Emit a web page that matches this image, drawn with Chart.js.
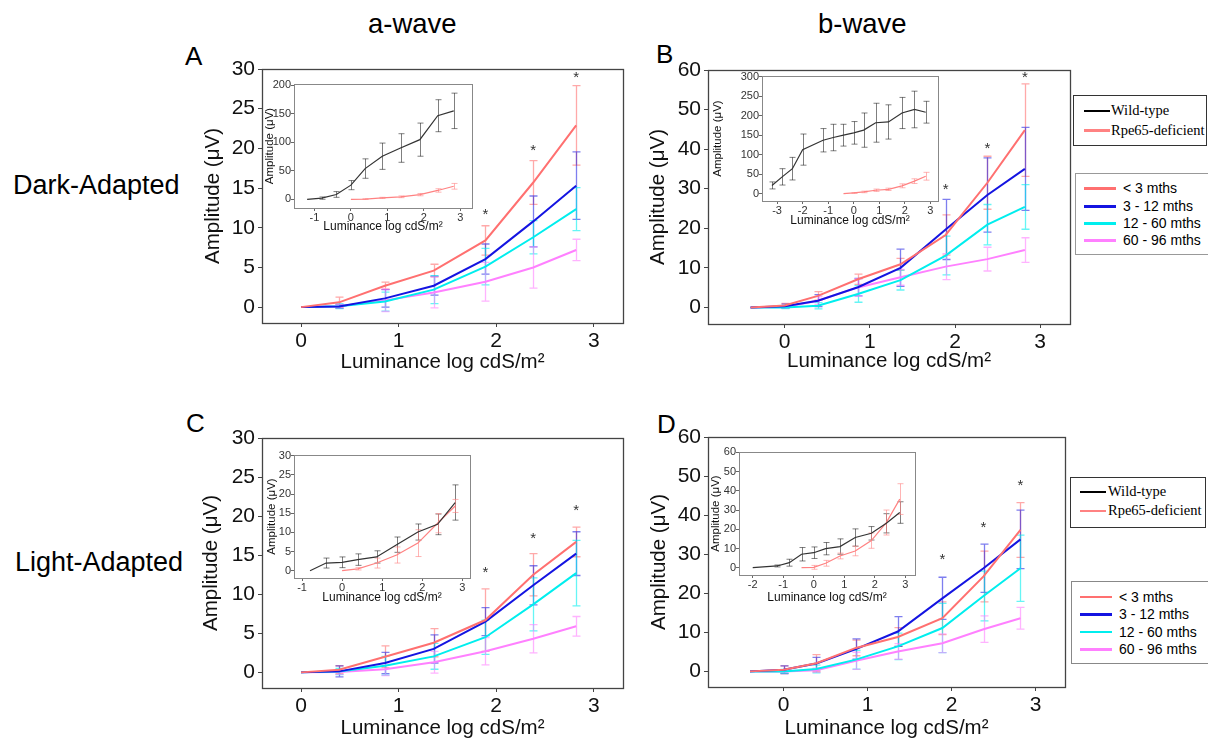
<!DOCTYPE html>
<html>
<head>
<meta charset="utf-8">
<script src="https://cdn.jsdelivr.net/npm/chart.js@4.4.1/dist/chart.umd.min.js"></script>
<style>
  html, body { margin: 0; padding: 0; background: #fff; }
  body { width: 1208px; height: 740px; position: relative; overflow: hidden; font-family: "Liberation Sans", Arial, sans-serif; }
  .lbl { position: absolute; white-space: nowrap; line-height: 1; color: #000; }
  .lg { position: absolute; background: #fff; box-sizing: border-box; }
  .lg .row { position: absolute; white-space: nowrap; line-height: 1; }
  .lg .sw { position: absolute; height: 2px; }
</style>
</head>
<body>
<div class="lbl" style="left:368px;top:10px;font-size:27.5px;">a-wave</div>
<div class="lbl" style="left:818px;top:10px;font-size:27.5px;">b-wave</div>
<div class="lbl" style="left:185px;top:43px;font-size:26px;">A</div>
<div class="lbl" style="left:656px;top:41px;font-size:26px;">B</div>
<div class="lbl" style="left:186px;top:410px;font-size:26px;">C</div>
<div class="lbl" style="left:657px;top:411px;font-size:26px;">D</div>
<div class="lbl" style="left:13px;top:172px;font-size:27px;">Dark-Adapted</div>
<div class="lbl" style="left:15px;top:549px;font-size:27px;">Light-Adapted</div>

<script>
// ---------------- DATA ----------------
const insetLabels = ['Wild-type', 'Rpe65-deficient'];
const groupLabels = ['< 3 mths', '3 - 12 mths', '12 - 60 mths', '60 - 96 mths'];
const yTitle = 'Amplitude (μV)';
const xTitle = 'Luminance log cdS/m²';

// luminance steps (log cdS/m2)
const xMainA = [0, 0.39, 0.86, 1.36, 1.89, 2.38, 2.82];
const xMainB = [-0.4, 0, 0.39, 0.86, 1.36, 1.89, 2.38, 2.82];

// Panel A: dark-adapted a-wave, by age group (mean, SD)
const aLt3 = [0, 0.6, 2.7, 4.6, 8.4, 15.7, 22.9];
const aLt3Err = [0, 0.65, 0.45, 0.8, 1.85, 2.75, 5.0];
const a3to12 = [0, 0.08, 1.1, 2.7, 6.05, 10.8, 15.3];
const a3to12Err = [0, 0.25, 1.1, 1.2, 1.9, 3.2, 4.25];
const a12to60 = [0, 0.1, 0.7, 2.2, 5.1, 8.8, 12.35];
const a12to60Err = [0, 0.3, 1.2, 1.75, 2.3, 2.1, 2.7];
const a60to96 = [0, 0.1, 0.85, 1.85, 3.2, 5.0, 7.2];
const a60to96Err = [0, 0.2, 1.4, 1.95, 2.45, 2.6, 1.35];
const aStarsX = [1.89, 2.38, 2.82];
const aStarsY = [12.2, 20.3, 29.5];

// Panel B: dark-adapted b-wave
const bLt3 = [0, 0.5, 2.9, 7.1, 10.9, 18.3, 31.5, 44.8];
const bLt3Err = [0, 0.5, 1.1, 1.3, 1.5, 5.1, 6.7, 11.7];
const b3to12 = [0, 0.3, 1.7, 5.1, 10.0, 19.7, 28.4, 35.0];
const b3to12Err = [0, 0.5, 1.5, 2.2, 4.7, 7.6, 9.4, 10.5];
const b12to60 = [0, 0, 0.4, 3.4, 6.9, 13.1, 20.9, 25.4];
const b12to60Err = [0, 0.3, 0.8, 2.1, 2.5, 4.9, 5.1, 5.65];
const b60to96 = [0, 0.1, 1.7, 5.05, 7.6, 10.3, 12.2, 14.5];
const b60to96Err = [0, 0.3, 1.0, 2.2, 2.0, 3.3, 3.0, 3.1];
const bStarsX = [1.89, 2.38, 2.82];
const bStarsY = [30.9, 41.3, 59.1];

// Panel C: light-adapted a-wave
const cLt3 = [0, 0.35, 2.0, 3.8, 6.7, 12.5, 16.7];
const cLt3Err = [0, 0.5, 1.4, 1.8, 4.0, 2.7, 1.9];
const c3to12 = [0, 0.13, 1.2, 3.0, 6.5, 11.15, 15.2];
const c3to12Err = [0, 0.7, 1.35, 1.8, 1.8, 2.5, 2.8];
const c12to60 = [0, 0.1, 0.85, 2.05, 4.5, 8.7, 12.7];
const c12to60Err = [0, 0.4, 1.2, 1.65, 2.2, 3.4, 4.2];
const c60to96 = [0, 0.05, 0.4, 1.3, 2.7, 4.3, 5.9];
const c60to96Err = [0, 0.3, 0.8, 1.4, 1.75, 1.8, 1.25];
const cStarsX = [1.89, 2.38, 2.82];
const cStarsY = [13.3, 17.7, 21.3];

// Panel D: light-adapted b-wave
const dLt3 = [0, 0.4, 2.1, 6.0, 8.8, 13.6, 24.3, 36.2];
const dLt3Err = [0, 1.0, 2.2, 2.0, 2.4, 4.2, 6.5, 7.0];
const d3to12 = [0, 0.4, 2.0, 5.7, 10.2, 18.7, 26.4, 33.8];
const d3to12Err = [0, 1.0, 1.6, 2.6, 3.8, 5.4, 6.2, 7.5];
const d12to60 = [0, 0, 0.6, 3.0, 6.4, 11.1, 19.3, 26.4];
const d12to60Err = [0, 0.5, 1.0, 2.4, 3.4, 6.3, 6.35, 8.5];
const d60to96 = [0, 0, 0.3, 2.7, 5.1, 7.2, 10.8, 13.6];
const d60to96Err = [0, 0.3, 0.5, 2.2, 2.0, 2.4, 3.4, 2.8];
const dStarsX = [1.89, 2.38, 2.82];
const dStarsY = [29.8, 37.9, 48.7];

// Insets: wild-type vs Rpe65-deficient
const iaWtX = [-1.2, -0.8, -0.4, 0, 0.39, 0.86, 1.36, 1.89, 2.38, 2.82];
const iaWt = [0, 2.3, 8.7, 25, 54, 75.6, 90, 104.6, 146.5, 155];
const iaWtErr = [0, 2, 5, 8, 17, 23, 25, 29, 28, 31];
const iaRpX = [0, 0.39, 0.86, 1.36, 1.89, 2.38, 2.82];
const iaRp = [0, 0.6, 2.7, 4.6, 8.4, 15.7, 23];
const iaRpErr = [0, 0.5, 1, 1.5, 2, 3, 5];

const ibWtX = [-3.2, -2.8, -2.4, -2.0, -1.2, -0.8, -0.4, 0, 0.39, 0.86, 1.36, 1.89, 2.38, 2.82];
const ibWt = [21, 43, 64, 113, 137, 144, 150, 156, 163, 182, 184, 207, 216, 209];
const ibWtErr = [9, 21, 29, 40, 30, 34, 28, 29, 44, 50, 44, 40, 47, 28];
const ibRpX = [-0.4, 0, 0.39, 0.86, 1.36, 1.89, 2.38, 2.82];
const ibRp = [0, 1.7, 4.3, 8.6, 11, 20, 32, 44.6];
const ibRpErr = [0, 1, 2, 3, 3, 5, 6, 10];

const icWtX = [-0.8, -0.4, 0, 0.39, 0.86, 1.36, 1.89, 2.38, 2.82];
const icWt = [0, 2.0, 2.2, 2.9, 3.6, 6.8, 10.1, 12.1, 17.8];
const icWtErr = [0, 1.3, 1.4, 1.5, 1.6, 2.0, 2.1, 2.7, 4.6];
const icRpX = [0, 0.39, 0.86, 1.36, 1.89, 2.38, 2.82];
const icRp = [0, 0.5, 2.0, 4.1, 7.2, 12.4, 16.9];
const icRpErr = [0, 0.3, 1.3, 2.1, 3.5, 2.5, 1.7];

const idWtX = [-2, -1.2, -0.8, -0.4, 0, 0.39, 0.86, 1.36, 1.89, 2.38, 2.82];
const idWt = [0, 0.9, 2.6, 7.0, 7.8, 9.9, 11, 15.7, 17.9, 23.1, 28.7];
const idWtErr = [0, 0.5, 1.8, 3.5, 3, 3.2, 4, 4.5, 3.5, 5, 5.6];
const idRpX = [-0.4, 0, 0.39, 0.86, 1.36, 1.89, 2.38, 2.82];
const idRp = [0, 0.2, 2.3, 6.1, 8.7, 14.1, 23.5, 35.7];
const idRpErr = [0, 1, 1.5, 1.5, 2.5, 4, 6.5, 8];

// Tick labels
const ticksMainX = [0, 1, 2, 3];
const ticksY30 = [0, 5, 10, 15, 20, 25, 30];
const ticksY60 = [0, 10, 20, 30, 40, 50, 60];
const ticksIaX = [-1, 0, 1, 2, 3];
const ticksIaY = [0, 50, 100, 150, 200];
const ticksIbX = [-3, -2, -1, 0, 1, 2, 3];
const ticksIbY = [0, 50, 100, 150, 200, 250, 300];
const ticksIcX = [-1, 0, 1, 2, 3];
const ticksIcY = [0, 5, 10, 15, 20, 25, 30];
const ticksIdX = [-2, -1, 0, 1, 2, 3];
const ticksIdY = [0, 10, 20, 30, 40, 50, 60];

// ---------------- STYLES ----------------
const groupColors = ['rgb(255,112,112)', 'rgb(20,20,225)', 'rgb(0,238,238)', 'rgb(255,128,255)'];
const groupErrColors = ['rgba(255,112,112,0.6)', 'rgba(20,20,225,0.55)', 'rgba(0,238,238,0.6)', 'rgba(255,128,255,0.6)'];
const insetColors = ['#333', 'rgb(255,130,130)'];
const insetErrColors = ['rgba(0,0,0,0.5)', 'rgba(255,130,130,0.6)'];
const FONT = '"Liberation Sans", Arial, sans-serif';
Chart.defaults.font.family = FONT;

// ---------------- PLUGINS ----------------
const framePlugin = {
  id: 'frame',
  beforeDraw(chart, args, opts) {
    const a = chart.chartArea, c = chart.ctx;
    if (opts.fill) { c.save(); c.fillStyle = opts.fill; c.fillRect(a.left, a.top, a.right - a.left, a.bottom - a.top); c.restore(); }
  },
  beforeDatasetsDraw(chart, args, opts) {
    const a = chart.chartArea, c = chart.ctx;
    c.save();
    c.strokeStyle = opts.color; c.lineWidth = opts.width;
    c.strokeRect(Math.round(a.left) + 0.5, Math.round(a.top) + 0.5, Math.round(a.right - a.left), Math.round(a.bottom - a.top));
    c.restore();
  }
};
const errorBarsPlugin = {
  id: 'errorBars',
  beforeDatasetsDraw(chart, args, opts) {
    const c = chart.ctx, xs = chart.scales.x, ys = chart.scales.y;
    c.save();
    c.beginPath();
    c.rect(chart.chartArea.left, chart.chartArea.top, chart.chartArea.right - chart.chartArea.left, chart.chartArea.bottom - chart.chartArea.top);
    c.clip();
    chart.data.datasets.forEach(ds => {
      if (!ds.errors) return;
      c.strokeStyle = ds.errorColor; c.lineWidth = opts.width;
      ds.data.forEach((p, j) => {
        const e = ds.errors[j];
        if (!e) return;
        const px = Math.round(xs.getPixelForValue(p.x)) + 0.5;
        const t = ys.getPixelForValue(p.y + e), b = ys.getPixelForValue(p.y - e);
        c.beginPath();
        c.moveTo(px, t); c.lineTo(px, b);
        c.moveTo(px - opts.cap, t); c.lineTo(px + opts.cap, t);
        c.moveTo(px - opts.cap, b); c.lineTo(px + opts.cap, b);
        c.stroke();
      });
    });
    c.restore();
  }
};
const starsPlugin = {
  id: 'stars',
  afterDatasetsDraw(chart, args, opts) {
    if (!opts.xs) return;
    const c = chart.ctx, xs = chart.scales.x, ys = chart.scales.y;
    c.save();
    c.fillStyle = '#333'; c.font = opts.size + 'px ' + FONT;
    c.textAlign = 'center'; c.textBaseline = 'alphabetic';
    opts.xs.forEach((x, i) => {
      c.fillText('*', xs.getPixelForValue(x), ys.getPixelForValue(opts.ys[i]) + opts.size * 0.57);
    });
    c.restore();
  }
};

// ---------------- BUILDER ----------------
function buildChart(spec) {
  const cv = document.createElement('canvas');
  const cw = spec.canvas.w, ch = spec.canvas.h;
  cv.width = cw; cv.height = ch;
  Object.assign(cv.style, { position: 'absolute', left: spec.canvas.x + 'px', top: spec.canvas.y + 'px', width: cw + 'px', height: ch + 'px', zIndex: spec.z });
  document.body.appendChild(cv);
  const b = spec.box;
  const padTop = b.t - spec.canvas.y, padRight = spec.canvas.x + cw - b.r;
  const yW = b.l - spec.canvas.x, xH = spec.canvas.y + ch - b.b;
  const st = spec.style;
  const tickColor = st.axisColor;
  return new Chart(cv, {
    type: 'line',
    data: {
      datasets: spec.series.map(s => ({
        label: s.label,
        data: s.x.map((x, i) => ({ x: x, y: s.y[i] })),
        errors: s.err,
        errorColor: s.errColor,
        borderColor: s.color,
        backgroundColor: s.color,
        borderWidth: st.lineWidth,
        pointRadius: 0,
        tension: 0,
        fill: false
      }))
    },
    options: {
      responsive: false, animation: false, events: [], devicePixelRatio: 1,
      layout: { padding: { top: padTop, right: padRight, left: 0, bottom: 0 } },
      plugins: {
        legend: { display: false }, tooltip: { enabled: false },
        frame: { color: st.frameColor, width: st.frameWidth, fill: st.fill },
        errorBars: { cap: st.cap, width: st.errWidth },
        stars: { xs: spec.starsX, ys: spec.starsY, size: 15 }
      },
      scales: {
        x: {
          type: 'linear', min: spec.xRange[0], max: spec.xRange[1],
          afterBuildTicks: s => { s.ticks = spec.xTicks.map(v => ({ value: v })); },
          afterFit: s => { s.height = xH; },
          grid: { display: true, drawOnChartArea: false, drawTicks: true, tickLength: st.tickLen, color: tickColor, lineWidth: 1 },
          border: { display: false },
          ticks: { font: { size: st.tickSize }, color: st.tickColor, padding: st.xTickPad, maxRotation: 0, autoSkip: false },
          title: { display: true, text: xTitle, color: '#111', font: { size: st.titleSize, lineHeight: 1.2 }, padding: { top: 0, bottom: spec.xTitlePad } }
        },
        y: {
          type: 'linear', min: spec.yRange[0], max: spec.yRange[1],
          afterBuildTicks: s => { s.ticks = spec.yTicks.map(v => ({ value: v })); },
          afterFit: s => { s.width = yW; },
          grid: { display: true, drawOnChartArea: false, drawTicks: true, tickLength: st.tickLen, color: tickColor, lineWidth: 1 },
          border: { display: false },
          ticks: { font: { size: st.tickSize }, color: st.tickColor, padding: st.yTickPad, autoSkip: false },
          title: { display: true, text: yTitle, color: '#111', font: { size: st.yTitleSize, lineHeight: 1.2 }, padding: { top: spec.yTitlePad, bottom: 0 } }
        }
      }
    },
    plugins: [framePlugin, errorBarsPlugin, starsPlugin]
  });
}

const mainStyle = { lineWidth: 2, errWidth: 1.3, cap: 4, frameColor: '#444', frameWidth: 1.3, axisColor: '#444', tickLen: 4,
  tickSize: 21, tickColor: '#111', titleSize: 20.5, yTitleSize: 20.5, xTickPad: 2, yTickPad: 3, fill: null };
const insetStyle = { lineWidth: 1.2, errWidth: 1, cap: 3, frameColor: '#888', frameWidth: 1, axisColor: '#666', tickLen: 3,
  tickSize: 11, tickColor: '#333', titleSize: 12, yTitleSize: 11.5, xTickPad: 0, yTickPad: 0, fill: '#fff' };

function groups(xs, vals, errs) {
  return vals.map((v, i) => ({ label: groupLabels[i], x: xs, y: v, err: errs[i], color: groupColors[i], errColor: groupErrColors[i] }));
}
function insetSeries(wx, w, we, rx, r, re) {
  return [
    { label: insetLabels[0], x: wx, y: w, err: we, color: insetColors[0], errColor: insetErrColors[0] },
    { label: insetLabels[1], x: rx, y: r, err: re, color: insetColors[1], errColor: insetErrColors[1] }
  ];
}

// Main panels
buildChart({ z: 1, style: mainStyle, canvas: { x: 180, y: 50, w: 455, h: 330 }, box: { l: 262, t: 69, r: 623, b: 323 },
  xRange: [-0.4, 3.3], yRange: [-2, 30], xTicks: ticksMainX, yTicks: ticksY30, yTitlePad: 20.7, xTitlePad: 5.7,
  series: groups(xMainA, [aLt3, a3to12, a12to60, a60to96], [aLt3Err, a3to12Err, a12to60Err, a60to96Err]),
  starsX: aStarsX, starsY: aStarsY });
buildChart({ z: 1, style: mainStyle, canvas: { x: 640, y: 50, w: 440, h: 330 }, box: { l: 708, t: 70, r: 1070, b: 324 },
  xRange: [-0.9, 3.35], yRange: [-4.2, 60], xTicks: ticksMainX, yTicks: ticksY60, yTitlePad: 5.7, xTitlePad: 6,
  series: groups(xMainB, [bLt3, b3to12, b12to60, b60to96], [bLt3Err, b3to12Err, b12to60Err, b60to96Err]),
  starsX: bStarsX, starsY: bStarsY });
buildChart({ z: 1, style: mainStyle, canvas: { x: 180, y: 420, w: 455, h: 325 }, box: { l: 262, t: 438, r: 623, b: 688 },
  xRange: [-0.4, 3.3], yRange: [-2, 30], xTicks: ticksMainX, yTicks: ticksY30, yTitlePad: 19.4, xTitlePad: 4.7,
  series: groups(xMainA, [cLt3, c3to12, c12to60, c60to96], [cLt3Err, c3to12Err, c12to60Err, c60to96Err]),
  starsX: cStarsX, starsY: cStarsY });
buildChart({ z: 1, style: mainStyle, canvas: { x: 640, y: 420, w: 435, h: 325 }, box: { l: 708, t: 437, r: 1065, b: 687 },
  xRange: [-0.9, 3.35], yRange: [-4, 60], xTicks: ticksMainX, yTicks: ticksY60, yTitlePad: 6.7, xTitlePad: 4.7,
  series: groups(xMainB, [dLt3, d3to12, d12to60, d60to96], [dLt3Err, d3to12Err, d12to60Err, d60to96Err]),
  starsX: dStarsX, starsY: dStarsY });

// Insets
buildChart({ z: 2, style: insetStyle, canvas: { x: 255, y: 74, w: 225, h: 160 }, box: { l: 294, t: 84, r: 472, b: 208 },
  xRange: [-1.56, 3.32], yRange: [-15, 202], xTicks: ticksIaX, yTicks: ticksIaY, yTitlePad: 8.1, xTitlePad: 0.1,
  series: insetSeries(iaWtX, iaWt, iaWtErr, iaRpX, iaRp, iaRpErr) });
buildChart({ z: 2, style: insetStyle, canvas: { x: 705, y: 66, w: 240, h: 163 }, box: { l: 762, t: 76, r: 938, b: 201 },
  xRange: [-3.59, 3.30], yRange: [-19, 302], xTicks: ticksIbX, yTicks: ticksIbY, yTitlePad: 6.1, xTitlePad: 1.1,
  series: insetSeries(ibWtX, ibWt, ibWtErr, ibRpX, ibRp, ibRpErr) });
buildChart({ z: 2, style: insetStyle, canvas: { x: 255, y: 445, w: 222, h: 162 }, box: { l: 294, t: 455, r: 470, b: 578 },
  xRange: [-1.2, 3.19], yRange: [-1.9, 30.2], xTicks: ticksIcX, yTicks: ticksIcY, yTitlePad: 9.8, xTitlePad: 2.5,
  series: insetSeries(icWtX, icWt, icWtErr, icRpX, icRp, icRpErr) });
buildChart({ z: 2, style: insetStyle, canvas: { x: 700, y: 442, w: 222, h: 165 }, box: { l: 739, t: 452, r: 915, b: 575 },
  xRange: [-2.45, 3.32], yRange: [-3.8, 60.2], xTicks: ticksIdX, yTicks: ticksIdY, yTitlePad: 9.1, xTitlePad: 2.5,
  series: insetSeries(idWtX, idWt, idWtErr, idRpX, idRp, idRpErr) });

// ---------------- LEGENDS (HTML) ----------------
function legend(box, items, colors, font, size, swX, swW, txtX, rowYs) {
  const d = document.createElement('div');
  d.className = 'lg';
  Object.assign(d.style, { left: box.x + 'px', top: box.y + 'px', width: box.w + 'px', height: box.h + 'px', border: box.border, zIndex: 3 });
  items.forEach((t, i) => {
    const sw = document.createElement('div');
    sw.className = 'sw';
    Object.assign(sw.style, { left: (swX - box.x) + 'px', width: swW + 'px', top: (rowYs[i] - box.y - 2) + 'px', background: colors[i], height: '2.5px' });
    d.appendChild(sw);
    const tx = document.createElement('div');
    tx.className = 'row';
    tx.textContent = t;
    Object.assign(tx.style, { left: (txtX - box.x) + 'px', top: (rowYs[i] - box.y - size * 0.5 - 1) + 'px', fontFamily: font, fontSize: size + 'px', lineHeight: size + 'px' });
    d.appendChild(tx);
  });
  document.body.appendChild(d);
}
const serif = '"Liberation Serif", "Times New Roman", serif';
legend({ x: 1073, y: 95, w: 134, h: 51, border: '1px solid #333' }, insetLabels, ['#000', 'rgb(255,130,130)'], serif, 14.5, 1083, 26, 1110, [110.7, 130]);
legend({ x: 1075, y: 173, w: 140, h: 82, border: '1px solid #999' }, groupLabels, groupColors, FONT, 14, 1083, 32, 1122, [188.3, 206, 223.3, 240]);
legend({ x: 1070, y: 477, w: 136, h: 51, border: '1px solid #333' }, insetLabels, ['#000', 'rgb(255,130,130)'], serif, 14.5, 1079, 26, 1107, [491.7, 510.7]);
legend({ x: 1071, y: 581, w: 140, h: 83, border: '1px solid #888' }, groupLabels, groupColors, FONT, 14, 1079, 32, 1118, [596.7, 614.3, 631.7, 649]);
</script>
</body>
</html>
